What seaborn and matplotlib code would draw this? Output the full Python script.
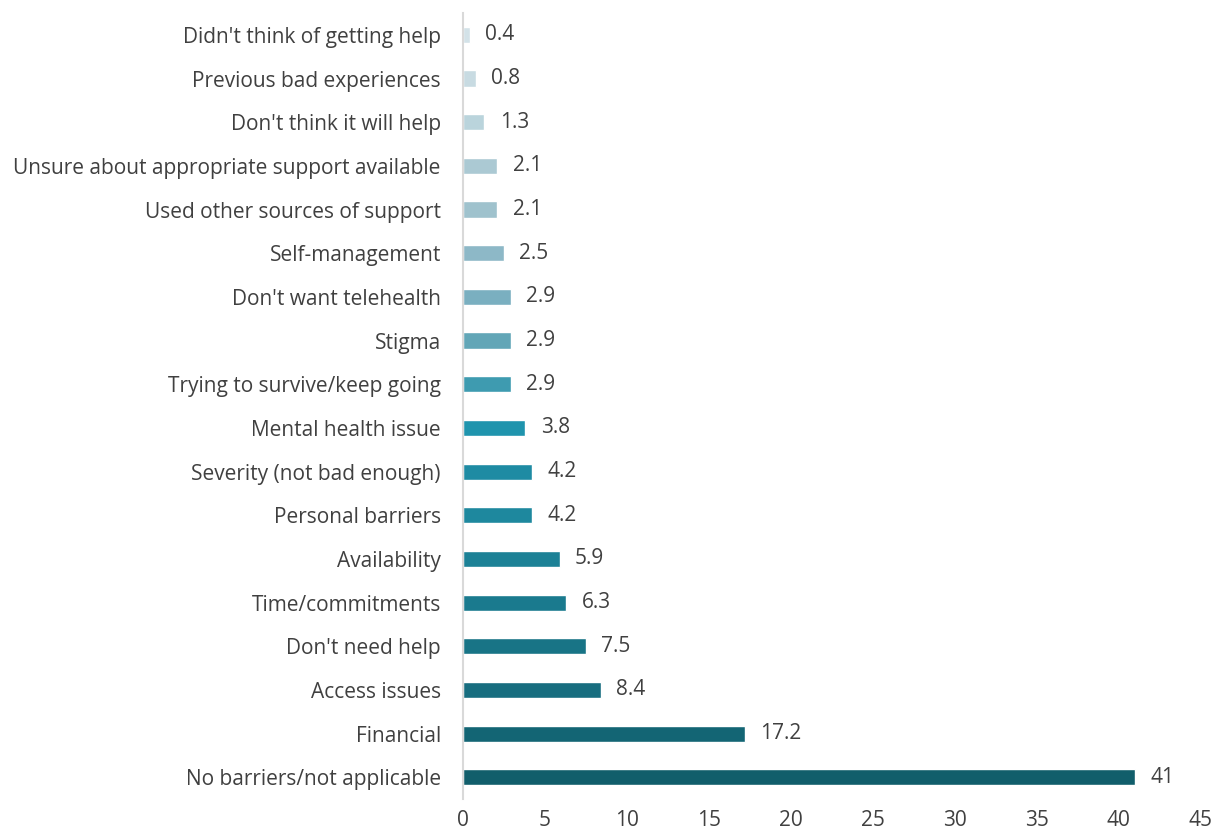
import matplotlib
matplotlib.use("Agg")
import matplotlib.pyplot as plt
import seaborn as sns
import pandas as pd

categories = [
    "Didn't think of getting help",
    "Previous bad experiences",
    "Don't think it will help",
    "Unsure about appropriate support available",
    "Used other sources of support",
    "Self-management",
    "Don't want telehealth",
    "Stigma",
    "Trying to survive/keep going",
    "Mental health issue",
    "Severity (not bad enough)",
    "Personal barriers",
    "Availability",
    "Time/commitments",
    "Don't need help",
    "Access issues",
    "Financial",
    "No barriers/not applicable",
]
values = [0.4, 0.8, 1.3, 2.1, 2.1, 2.5, 2.9, 2.9, 2.9, 3.8, 4.2, 4.2, 5.9, 6.3, 7.5, 8.4, 17.2, 41]
value_labels = ["0.4", "0.8", "1.3", "2.1", "2.1", "2.5", "2.9", "2.9", "2.9",
                "3.8", "4.2", "4.2", "5.9", "6.3", "7.5", "8.4", "17.2", "41"]
x_ticks = [0, 5, 10, 15, 20, 25, 30, 35, 40, 45]

# light-to-dark teal ramp, one shade per category
palette = [
    "#d3e2e8", "#c8dbe2", "#bad4dc", "#abc9d3", "#9fc2cd", "#8db8c7",
    "#7aafc0", "#62a6b7", "#3e9bb0", "#1f94ad", "#1e8ba3", "#1e889e",
    "#1c8196", "#1a7a8e", "#187486", "#176d7f", "#136574", "#115e6b",
]

df = pd.DataFrame({"category": categories, "value": values})

sns.set_theme(style="white")
plt.rcParams["font.family"] = ["Open Sans", "DejaVu Sans"]

fig = plt.figure(figsize=(12.25, 8.39), dpi=100)
ax = fig.add_axes([0.378, 0.0475, 0.602, 0.937])

sns.barplot(data=df, y="category", x="value", hue="category", palette=palette,
            order=categories, hue_order=categories, orient="h", width=0.37,
            legend=False, ax=ax, saturation=1)

for cont, lab in zip(ax.containers, value_labels):
    ax.bar_label(cont, labels=[lab], padding=11, fontsize=15, color="#404040")

ax.set_xlim(0, 45)
ax.set_xticks(x_ticks)
ax.set_xticklabels([str(t) for t in x_ticks])
ax.set_xlabel("")
ax.set_ylabel("")
ax.tick_params(axis="y", length=0, pad=16, labelsize=15, labelcolor="#404040")
ax.tick_params(axis="x", length=0, pad=8, labelsize=15, labelcolor="#404040")

for s in ["top", "right", "bottom"]:
    ax.spines[s].set_visible(False)
ax.spines["left"].set_color("#d9d9d9")
ax.spines["left"].set_linewidth(1.5)
ax.grid(False)

fig.savefig("out.png", dpi=100)
